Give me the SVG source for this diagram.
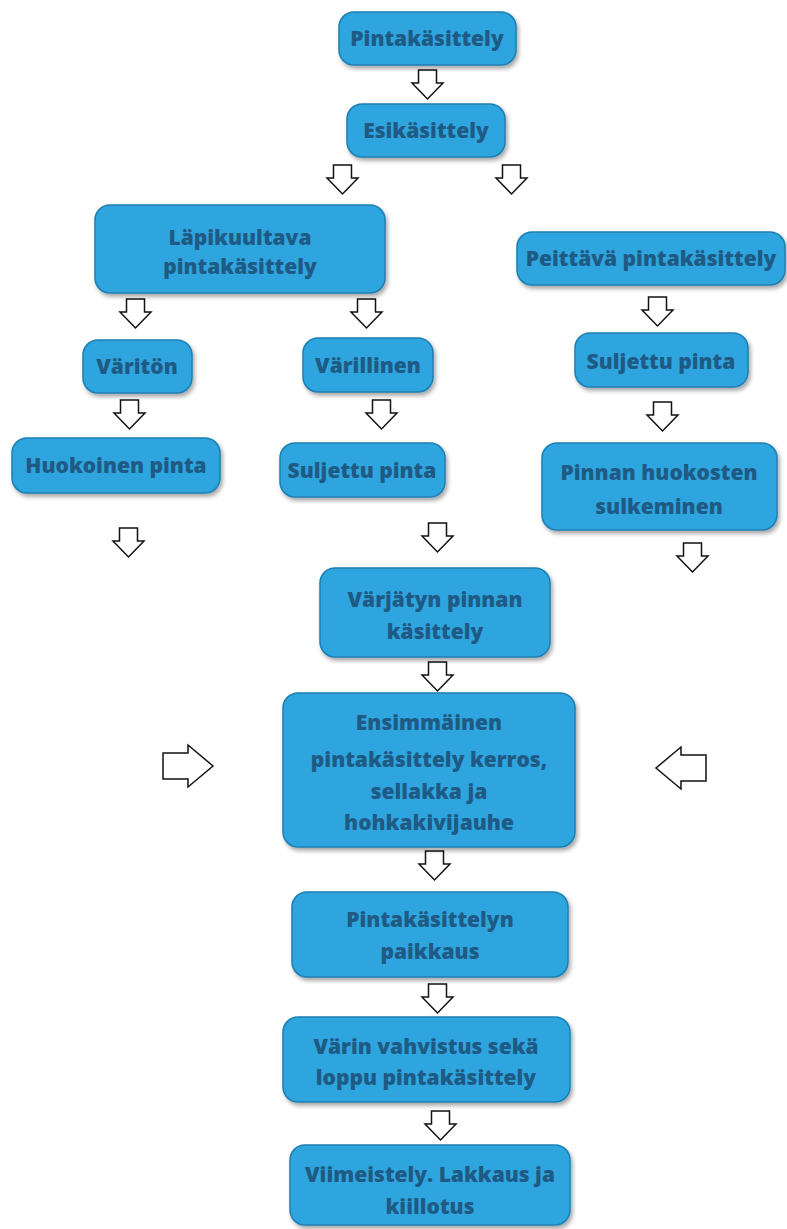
<svg xmlns="http://www.w3.org/2000/svg" xmlns:xlink="http://www.w3.org/1999/xlink" width="787" height="1229" viewBox="0 0 787 1229">
<defs>
<filter id="sh" x="-10%" y="-20%" width="125%" height="150%">
<feDropShadow dx="2" dy="3" stdDeviation="2" flood-color="#000" flood-opacity="0.35"/>
</filter>
<path id="ad" d="M6.5,0 H24.5 V13 H31 L15.5,29 L0,13 H6.5 Z"/>
<path id="ar" d="M0,8 H25 V0 L50,21 L25,42 V34 H0 Z"/>
</defs>
<style>
.box{fill:#2da5de;stroke:#1c7fb2;stroke-width:1.5;filter:url(#sh)}
.t{font-family:"Open Sans","DejaVu Sans",sans-serif;font-weight:800;font-size:21px;fill:#1f5a84;text-anchor:middle}
.arr{fill:#fff;stroke:#111;stroke-width:1.5;stroke-linejoin:miter}
</style>
<rect width="787" height="1229" fill="#fff"/>
<g id="connectors">
<use href="#ad" class="arr" x="412" y="70"/>
<use href="#ad" class="arr" x="327" y="165"/>
<use href="#ad" class="arr" x="496" y="165"/>
<use href="#ad" class="arr" x="120" y="299"/>
<use href="#ad" class="arr" x="351" y="299"/>
<use href="#ad" class="arr" x="642" y="297"/>
<use href="#ad" class="arr" x="647" y="402"/>
<use href="#ad" class="arr" x="677" y="543"/>
<use href="#ad" class="arr" x="114" y="400"/>
<use href="#ad" class="arr" x="113" y="528"/>
<use href="#ad" class="arr" x="366" y="400"/>
<use href="#ad" class="arr" x="422" y="523"/>
<use href="#ad" class="arr" x="422" y="662"/>
<use href="#ad" class="arr" x="419" y="851"/>
<use href="#ad" class="arr" x="422" y="984"/>
<use href="#ad" class="arr" x="425" y="1111"/>
<use href="#ar" class="arr" x="163" y="745"/>
<use href="#ar" class="arr" transform="translate(706,747) scale(-1,1)"/>
</g>
<g id="n1"><rect class="box" x="339" y="12" width="177" height="53" rx="15"/><text class="t" x="427" y="46">Pintakäsittely</text></g>
<g id="n2"><rect class="box" x="347" y="104" width="158" height="53" rx="15"/><text class="t" x="426" y="138">Esikäsittely</text></g>
<g id="n3"><rect class="box" x="95" y="205" width="290" height="88" rx="15"/><text class="t" x="240" y="245">Läpikuultava</text><text class="t" x="240" y="274">pintakäsittely</text></g>
<g id="n4"><rect class="box" x="517" y="232" width="268" height="53" rx="15"/><text class="t" x="651" y="266">Peittävä pintakäsittely</text></g>
<g id="n5"><rect class="box" x="575" y="333" width="173" height="54" rx="15"/><text class="t" x="661" y="369">Suljettu pinta</text></g>
<g id="n6"><rect class="box" x="542" y="443" width="235" height="87" rx="15"/><text class="t" x="659" y="480">Pinnan huokosten</text><text class="t" x="659" y="514">sulkeminen</text></g>
<g id="n7"><rect class="box" x="83" y="340" width="109" height="53" rx="15"/><text class="t" x="137" y="374">Väritön</text></g>
<g id="n8"><rect class="box" x="12" y="438" width="208" height="55" rx="15"/><text class="t" x="116" y="473">Huokoinen pinta</text></g>
<g id="n9"><rect class="box" x="303" y="338" width="130" height="54" rx="15"/><text class="t" x="368" y="373">Värillinen</text></g>
<g id="n10"><rect class="box" x="280" y="443" width="165" height="54" rx="15"/><text class="t" x="362" y="478">Suljettu pinta</text></g>
<g id="n11"><rect class="box" x="320" y="568" width="230" height="89" rx="15"/><text class="t" x="435" y="607">Värjätyn pinnan</text><text class="t" x="435" y="639">käsittely</text></g>
<g id="n12"><rect class="box" x="283" y="693" width="292" height="154" rx="15"/><text class="t" x="429" y="730">Ensimmäinen</text><text class="t" x="429" y="767">pintakäsittely kerros,</text><text class="t" x="429" y="799">sellakka ja</text><text class="t" x="429" y="830">hohkakivijauhe</text></g>
<g id="n13"><rect class="box" x="292" y="892" width="276" height="85" rx="15"/><text class="t" x="430" y="927">Pintakäsittelyn</text><text class="t" x="430" y="959">paikkaus</text></g>
<g id="n14"><rect class="box" x="283" y="1017" width="287" height="85" rx="15"/><text class="t" x="426" y="1054">Värin vahvistus sekä</text><text class="t" x="426" y="1085">loppu pintakäsittely</text></g>
<g id="n15"><rect class="box" x="290" y="1145" width="280" height="80" rx="15"/><text class="t" x="430" y="1182">Viimeistely. Lakkaus ja</text><text class="t" x="430" y="1214">kiillotus</text></g>
</svg>
